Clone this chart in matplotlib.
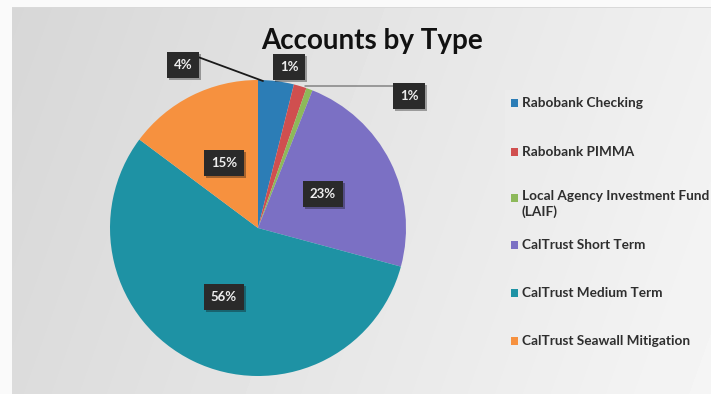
import numpy as np
import matplotlib
matplotlib.use("Agg")
import matplotlib.pyplot as plt
from matplotlib import patheffects as pe
from matplotlib.patches import Rectangle

categories = ["Rabobank Checking", "Rabobank PIMMA", "Local Agency Investment Fund\n(LAIF)",
              "CalTrust Short Term", "CalTrust Medium Term", "CalTrust Seawall Mitigation"]
values = [3.9, 1.4, 0.7, 23.2, 56.0, 14.8]
colors = ["#2C7DB6", "#D04F4F", "#8DB95A", "#7B70C4", "#1E92A4", "#F6913F"]
title = "Accounts by Type"

W, H = 711, 394
fig = plt.figure(figsize=(W / 100, H / 100), dpi=100)

# scanned-paper background
bg = fig.add_axes([0, 0, 1, 1], zorder=-10)
xx = np.linspace(0, 1, W)[None, :]
yy = np.linspace(0, 1, H)[:, None]
img = 0.84 + 0.10 * xx + 0.02 * yy
img = np.clip(img, 0, 1)
img[:7, :] = 0.98
img[7, 12:] = 0.85
img[:, :12] = 0.98
img[90:380, 505:705] = np.maximum(img[90:380, 505:705], 0.925)
bg.imshow(img, cmap="gray", vmin=0, vmax=1, aspect="auto", extent=[0, W, H, 0])
bg.set_axis_off()

cx, cy, r = 258, 228, 148
ax = fig.add_axes([(cx - r) / W, (H - cy - r) / H, 2 * r / W, 2 * r / H])
wedges, _ = ax.pie(values, colors=colors, startangle=90, counterclock=False,
                   radius=1, wedgeprops=dict(linewidth=0))
ax.set_xlim(-1, 1)
ax.set_ylim(-1, 1)
ax.set_aspect("auto")
ax.set_axis_off()

def d(px, py):
    return ((px - cx) / r, (cy - py) / r)

label_pos = [d(183, 65), d(289, 67), d(409, 96), d(323, 194), d(224, 297), d(224, 163)]
box = dict(boxstyle="square,pad=0.5", fc="#2a2a2a", ec="none")
for i, v in enumerate(values):
    t = ax.text(*label_pos[i], f"{round(v)}%", ha="center", va="center", color="#eeeeee",
                fontsize=9.5, family="Lato", fontweight="bold", bbox=box, clip_on=False, zorder=5)
    t.get_bbox_patch().set_path_effects([pe.withSimplePatchShadow(offset=(1.5, -1.5), alpha=0.35), pe.Normal()])

# leader lines
ax.annotate("", xy=d(263, 81), xytext=d(198, 57),
            arrowprops=dict(arrowstyle="-", color="#1a1a1a", lw=1.3, shrinkA=0, shrinkB=0),
            annotation_clip=False, zorder=4)
ax.annotate("", xy=d(305, 86), xytext=d(393, 86),
            arrowprops=dict(arrowstyle="-", color="#7a7a7a", lw=1.0, shrinkA=0, shrinkB=0),
            annotation_clip=False, zorder=4)

fig.text(372 / W, 1 - 41 / H, title, ha="center", va="center", fontsize=20,
         family="Lato", fontweight="bold", color="#111111")

# legend
leg_y = [103, 152, 198, 245, 293, 341]
for lab, col, yp in zip(categories, colors, leg_y):
    fig.patches.append(Rectangle((511 / W, 1 - (yp + 4) / H), 7 / W, 8 / H,
                                 transform=fig.transFigure, fc=col, ec="none"))
    multi = "\n" in lab
    ypos = yp - 8 if multi else yp
    fig.text(522 / W, 1 - ypos / H, lab, ha="left", va="top" if multi else "center",
             fontsize=9.8, family="Lato", fontweight="bold", color="#2e2e2e",
             linespacing=1.35)

fig.savefig("out.png", dpi=100)
